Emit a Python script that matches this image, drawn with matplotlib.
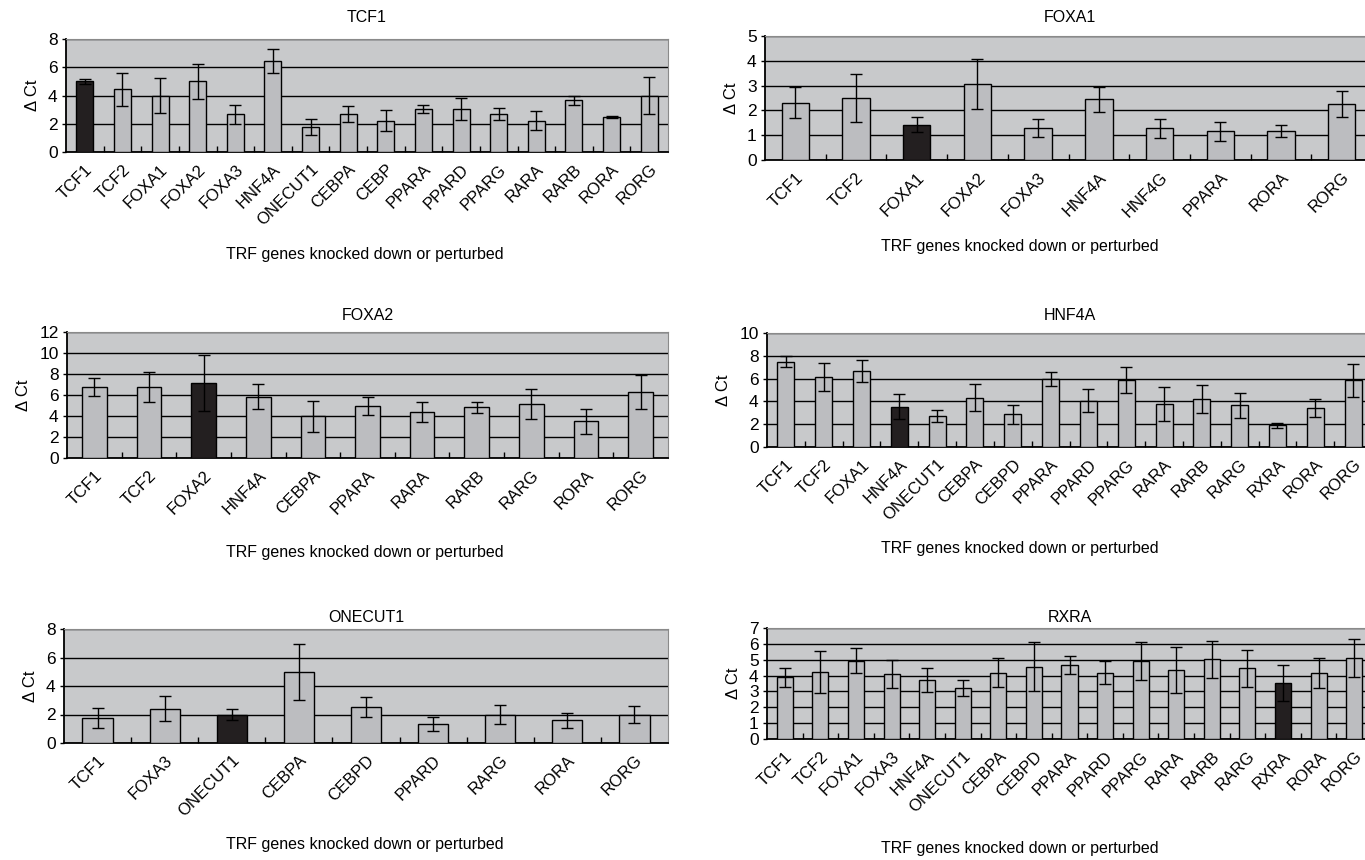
import numpy as np
import matplotlib
matplotlib.use('Agg')
import matplotlib.pyplot as plt
from matplotlib.ticker import MultipleLocator

plt.rcParams['font.family'] = ['Liberation Sans', 'DejaVu Sans']

# panel TCF1
tcf1_genes = ['TCF1', 'TCF2', 'FOXA1', 'FOXA2', 'FOXA3', 'HNF4A', 'ONECUT1', 'CEBPA',
              'CEBP', 'PPARA', 'PPARD', 'PPARG', 'RARA', 'RARB', 'RORA', 'RORG']
tcf1_vals = [5.0, 4.45, 4.0, 5.0, 2.68, 6.45, 1.8, 2.67, 2.23, 3.02, 3.02, 2.68, 2.23, 3.68, 2.47, 4.0]
tcf1_err = [0.2, 1.17, 1.25, 1.25, 0.68, 0.87, 0.57, 0.58, 0.77, 0.28, 0.78, 0.44, 0.68, 0.32, 0.08, 1.3]

# panel FOXA1
foxa1_genes = ['TCF1', 'TCF2', 'FOXA1', 'FOXA2', 'FOXA3', 'HNF4A', 'HNF4G', 'PPARA', 'RORA', 'RORG']
foxa1_vals = [2.31, 2.5, 1.42, 3.06, 1.28, 2.44, 1.28, 1.16, 1.16, 2.26]
foxa1_err = [0.62, 0.98, 0.3, 1.0, 0.37, 0.5, 0.38, 0.38, 0.24, 0.51]

# panel FOXA2
foxa2_genes = ['TCF1', 'TCF2', 'FOXA2', 'HNF4A', 'CEBPA', 'PPARA', 'RARA', 'RARB', 'RARG', 'RORA', 'RORG']
foxa2_vals = [6.76, 6.76, 7.17, 5.85, 3.97, 4.97, 4.38, 4.83, 5.13, 3.5, 6.29]
foxa2_err = [0.9, 1.4, 2.67, 1.17, 1.48, 0.87, 0.97, 0.5, 1.4, 1.2, 1.63]

# panel HNF4A
hnf4a_genes = ['TCF1', 'TCF2', 'FOXA1', 'HNF4A', 'ONECUT1', 'CEBPA', 'CEBPD', 'PPARA', 'PPARD',
               'PPARG', 'RARA', 'RARB', 'RARG', 'RXRA', 'RORA', 'RORG']
hnf4a_vals = [7.49, 6.14, 6.67, 3.54, 2.72, 4.33, 2.87, 5.94, 4.07, 5.85, 3.8, 4.21, 3.65, 1.9, 3.39, 5.85]
hnf4a_err = [0.5, 1.23, 1.0, 1.1, 0.5, 1.2, 0.85, 0.6, 1.0, 1.15, 1.5, 1.2, 1.1, 0.2, 0.8, 1.45]

# panel ONECUT1
onecut1_genes = ['TCF1', 'FOXA3', 'ONECUT1', 'CEBPA', 'CEBPD', 'PPARD', 'RARG', 'RORA', 'RORG']
onecut1_vals = [1.78, 2.4, 2.0, 5.0, 2.52, 1.33, 2.0, 1.58, 2.0]
onecut1_err = [0.7, 0.88, 0.42, 1.97, 0.73, 0.5, 0.68, 0.5, 0.6]

# panel RXRA
rxra_genes = ['TCF1', 'TCF2', 'FOXA1', 'FOXA3', 'HNF4A', 'ONECUT1', 'CEBPA', 'CEBPD', 'PPARA',
              'PPARD', 'PPARG', 'RARA', 'RARB', 'RARG', 'RXRA', 'RORA', 'RORG']
rxra_vals = [3.88, 4.25, 4.93, 4.08, 3.7, 3.22, 4.18, 4.55, 4.65, 4.17, 4.93, 4.35, 5.02, 4.45, 3.53, 4.18, 5.1]
rxra_err = [0.57, 1.32, 0.78, 0.88, 0.75, 0.5, 0.92, 1.55, 0.58, 0.73, 1.2, 1.45, 1.17, 1.15, 1.12, 0.95, 1.2]

W, H = 1365, 860
fig = plt.figure(figsize=(W / 100, H / 100), dpi=100)

BG = '#c8c9cb'
BAR = '#bcbdc0'
DARK = '#231f20'


def panel(box, title, genes, vals, errs, target, ymax, ystep, title_y, xlabel_x, xlabel_y):
    l, r, t, b = box
    ax = fig.add_axes([l / W, 1 - b / H, (r - l) / W, (b - t) / H])
    ax.set_facecolor(BG)
    x = np.arange(len(genes))
    colors = [DARK if g == target else BAR for g in genes]
    ax.bar(x, vals, width=0.45, color=colors, edgecolor='black', linewidth=1.0, zorder=3)
    ax.errorbar(x, vals, yerr=errs, fmt='none', ecolor='black', elinewidth=1.0,
                capsize=4, capthick=1.0, zorder=4)
    ax.set_xlim(-0.5, len(genes) - 0.5)
    ax.set_ylim(0, ymax)
    ax.yaxis.set_major_locator(MultipleLocator(ystep))
    ax.grid(axis='y', color='black', linewidth=1.0, zorder=1)
    ax.set_axisbelow(True)
    ax.set_xticks(x)
    ax.set_xticklabels(genes, rotation=45, ha='right', rotation_mode='anchor', fontsize=12)
    ax.tick_params(axis='x', which='major', length=0, pad=7)
    ax.set_xticks(x[:-1] + 0.5, minor=True)
    ax.tick_params(axis='x', which='minor', length=4, direction='in', width=1)
    ax.tick_params(axis='y', length=3, width=1, labelsize=12.5, pad=3)
    for s in ['top', 'right']:
        ax.spines[s].set_color('#8a8a8a')
    for s in ['left', 'bottom']:
        ax.spines[s].set_linewidth(1.3)
    ax.set_ylabel('Δ Ct', fontsize=12, labelpad=6)
    # title and caption sit at fixed heights in each row
    fig.text((l + r) / 2 / W if r < 1000 else 1070 / W, 1 - title_y / H, title,
             fontsize=11.5, ha='center', va='center')
    fig.text(xlabel_x / W, 1 - xlabel_y / H, 'TRF genes knocked down or perturbed',
             fontsize=11.5, ha='center', va='center')
    return ax


panel((66, 668, 39, 152), 'TCF1', tcf1_genes, tcf1_vals, tcf1_err, 'TCF1', 8, 2, 18, 365, 254)
panel((765, 1372, 36, 160), 'FOXA1', foxa1_genes, foxa1_vals, foxa1_err, 'FOXA1', 5, 1, 17, 1020, 247)
panel((67, 668, 332, 458), 'FOXA2', foxa2_genes, foxa2_vals, foxa2_err, 'FOXA2', 12, 2, 316, 365, 552)
panel((767, 1372, 333, 447), 'HNF4A', hnf4a_genes, hnf4a_vals, hnf4a_err, 'HNF4A', 10, 2, 316, 1020, 548)
panel((64, 668, 629, 743), 'ONECUT1', onecut1_genes, onecut1_vals, onecut1_err, 'ONECUT1', 8, 2, 618, 365, 845)
panel((767, 1372, 628, 739), 'RXRA', rxra_genes, rxra_vals, rxra_err, 'RXRA', 7, 1, 618, 1020, 848)

fig.savefig('out.png', dpi=100, facecolor='white')
